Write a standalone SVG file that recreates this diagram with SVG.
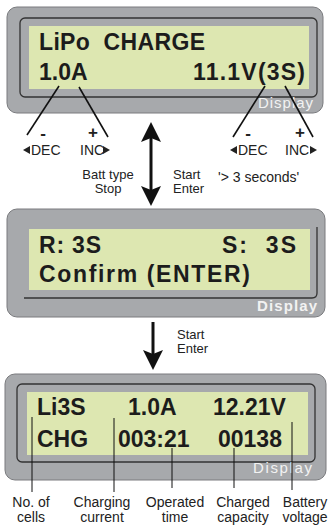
<svg xmlns="http://www.w3.org/2000/svg" width="328" height="525" viewBox="0 0 328 525">
<defs>
<style>
.bezel{fill:#a7a9ac;stroke:#7a7b7e;stroke-width:1}
.frame{fill:none;stroke:#333;stroke-width:1.3}
.lcd{fill:#dde7b1}
.lcdt{font-family:"Liberation Sans",Arial,sans-serif;font-weight:bold;font-size:23px;fill:#1c1c1c;white-space:pre}
.disp{font-family:"Liberation Sans",Arial,sans-serif;font-size:15px;fill:#f2f2f2}
.lbl{font-family:"Liberation Sans",Arial,sans-serif;font-size:14px;fill:#222}
.sm{font-size:13px}
.sym{font-family:"Liberation Sans",Arial,sans-serif;font-size:17px;font-weight:bold;fill:#222;text-anchor:middle}
.ln{stroke:#111;stroke-width:1.6;fill:none}
.thin{stroke:#111;stroke-width:1;fill:none}
.mid{text-anchor:middle}
</style>
</defs>

<g id="display1">
<rect class="bezel" x="7" y="7" width="316" height="106" rx="10"/>
<rect class="frame" x="20" y="18" width="297" height="79" rx="5"/>
<rect class="lcd" x="29" y="26" width="280" height="63"/>
<text class="lcdt" x="39" y="50" xml:space="preserve" textLength="166" lengthAdjust="spacing">LiPo  CHARGE</text>
<text class="lcdt" x="39" y="80">1.0A</text>
<text class="lcdt" x="193" y="80" textLength="112" lengthAdjust="spacing">11.1V(3S)</text>
<text class="disp" x="258" y="108" textLength="55" lengthAdjust="spacing">Display</text>
</g>

<g id="display2">
<rect class="bezel" x="7" y="209" width="318" height="108" rx="10"/>
<rect class="lcd" x="29" y="229" width="281" height="61"/>
<path class="frame" d="M24,298 H312 Q317,298 317,293 V227"/>
<text class="lcdt" x="39" y="253" textLength="62" lengthAdjust="spacing">R: 3S</text>
<text class="lcdt" x="222" y="253" xml:space="preserve" textLength="74" lengthAdjust="spacing">S:  3S</text>
<text class="lcdt" x="39" y="282" textLength="211" lengthAdjust="spacing">Confirm (ENTER)</text>
<text class="disp" x="257" y="311" font-weight="bold" textLength="60" lengthAdjust="spacing">Display</text>
</g>

<g id="display3">
<rect class="bezel" x="5" y="374" width="321" height="106" rx="10"/>
<rect class="frame" x="17" y="384" width="298" height="78" rx="5"/>
<rect class="lcd" x="27" y="392" width="281" height="63"/>
<text class="lcdt" x="37" y="415">Li3S</text>
<text class="lcdt" x="128" y="415">1.0A</text>
<text class="lcdt" x="213" y="415">12.21V</text>
<text class="lcdt" x="37" y="447">CHG</text>
<text class="lcdt" x="118" y="447">003:21</text>
<text class="lcdt" x="218" y="447">00138</text>
<text class="disp" x="253" y="473" textLength="59" lengthAdjust="spacing">Display</text>
</g>

<g id="buttons">
<text class="sym" x="43" y="139">-</text>
<text class="sym" x="93" y="138">+</text>
<text class="sym" x="248" y="139">-</text>
<text class="sym" x="300" y="138">+</text>
<polygon points="23,150 30,146 30,154" fill="#222"/>
<text class="lbl" x="31" y="155">DEC</text>
<text class="lbl" x="80" y="155">INC</text>
<polygon points="110,150 103,146 103,154" fill="#222"/>
<polygon points="230,150 237,146 237,154" fill="#222"/>
<text class="lbl" x="238" y="155">DEC</text>
<text class="lbl" x="285" y="155">INC</text>
<polygon points="317,150 310,146 310,154" fill="#222"/>
</g>

<g id="labels">
<text class="lbl sm mid" x="108" y="179">Batt type</text>
<text class="lbl sm mid" x="108" y="193">Stop</text>
<text class="lbl sm" x="173" y="179">Start</text>
<text class="lbl sm" x="173" y="193">Enter</text>
<text class="lbl" x="218" y="182" font-size="15">'&gt; 3 seconds'</text>
<text class="lbl sm" x="177" y="339">Start</text>
<text class="lbl sm" x="177" y="353">Enter</text>
<text class="lbl mid" x="31" y="507">No. of</text>
<text class="lbl mid" x="31" y="522">cells</text>
<text class="lbl mid" x="102" y="507">Charging</text>
<text class="lbl mid" x="102" y="522">current</text>
<text class="lbl mid" x="175" y="507">Operated</text>
<text class="lbl mid" x="175" y="522">time</text>
<text class="lbl mid" x="243" y="507">Charged</text>
<text class="lbl mid" x="243" y="522">capacity</text>
<text class="lbl mid" x="305" y="507">Battery</text>
<text class="lbl mid" x="305" y="522">voltage</text>
</g>

<g id="connectors">
<line class="ln" x1="59" y1="86" x2="27" y2="135"/>
<line class="ln" x1="79" y1="87" x2="108" y2="137"/>
<line class="ln" x1="265" y1="86" x2="233" y2="137"/>
<line class="ln" x1="285" y1="86" x2="313" y2="137"/>
<line x1="151" y1="135" x2="151" y2="192" stroke="#111" stroke-width="3"/>
<polygon points="151,122 141,142 151,138 161,142" fill="#111"/>
<polygon points="151,206 141,186 151,190 161,186" fill="#111"/>
<line x1="153" y1="322" x2="153" y2="356" stroke="#111" stroke-width="3"/>
<polygon points="153,370 143,350 153,354 163,350" fill="#111"/>
<line class="thin" x1="32" y1="417" x2="32" y2="492"/>
<line class="thin" x1="114" y1="418" x2="114" y2="492"/>
<line class="thin" x1="172" y1="448" x2="172" y2="488"/>
<line class="thin" x1="234" y1="448" x2="234" y2="488"/>
<line class="thin" x1="292" y1="422" x2="292" y2="490"/>
</g>
</svg>
